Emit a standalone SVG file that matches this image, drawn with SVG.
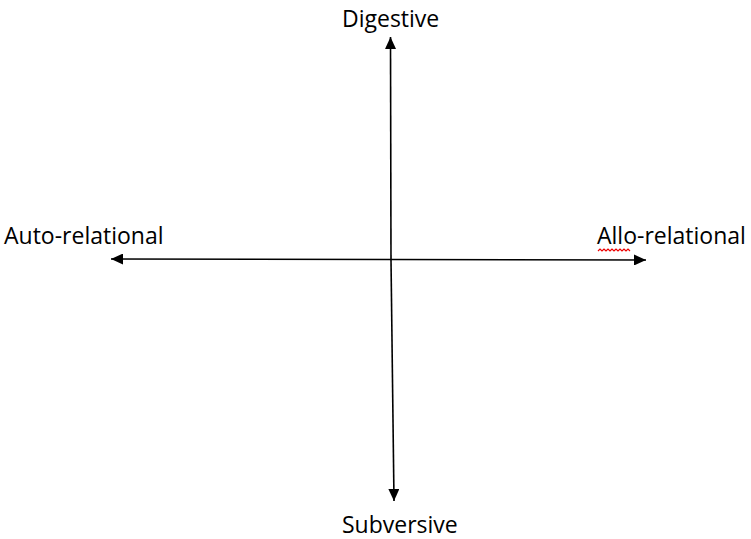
<svg xmlns="http://www.w3.org/2000/svg" width="751" height="539" viewBox="0 0 751 539">
  <style>
    .lbl { font-family: "Open Sans", "DejaVu Sans", sans-serif; font-size: 23px; fill: #000; }
    .axis { stroke: #000; stroke-width: 1.6; fill: none; }
  </style>
  <defs>
    <marker id="ah" viewBox="0 0 12 11" refX="12" refY="5.5" markerWidth="12" markerHeight="11" markerUnits="userSpaceOnUse" orient="auto">
      <path d="M0,0 L12,5.5 L0,11 Z" fill="#000"/>
    </marker>
  </defs>
  <rect width="751" height="539" fill="#fff"/>
  <g id="connectors">
    <line class="axis" x1="391" y1="260" x2="390.5" y2="37" marker-end="url(#ah)"/>
    <line class="axis" x1="391" y1="260" x2="394" y2="501" marker-end="url(#ah)"/>
    <line class="axis" x1="391" y1="259.5" x2="111" y2="259" marker-end="url(#ah)"/>
    <line class="axis" x1="391" y1="259.5" x2="646" y2="260" marker-end="url(#ah)"/>
  </g>
  <g id="digestive"><text class="lbl" x="342" y="27">Digestive</text></g>
  <g id="auto-relational"><text class="lbl" x="4" y="244">Auto-relational</text></g>
  <g id="allo-relational">
    <text class="lbl" x="597" y="244">Allo-relational</text>
    <path d="M598,251 l2,-2 l2,2 l2,-2 l2,2 l2,-2 l2,2 l2,-2 l2,2 l2,-2 l2,2 l2,-2 l2,2 l2,-2 l2,2 l2,-2 l2,2" stroke="#e00" stroke-width="1.2" fill="none"/>
  </g>
  <g id="subversive"><text class="lbl" x="342" y="533">Subversive</text></g>
</svg>
